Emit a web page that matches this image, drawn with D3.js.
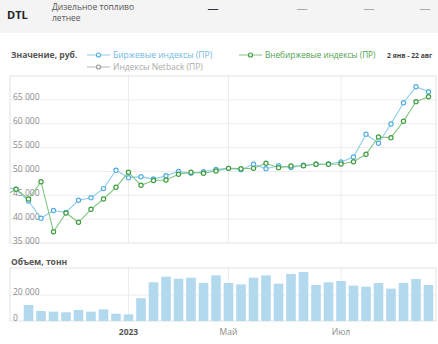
<!DOCTYPE html>
<html><head><meta charset="utf-8">
<script src="https://cdn.jsdelivr.net/npm/d3@7"></script>
<style>body{margin:0;background:#fff;}svg{display:block;font-family:"Open Sans",sans-serif;}</style>
</head><body><svg id="c" width="438" height="344"></svg>
<script>
// weekly index positions (-1 is a partially clipped leading point)
const weekIdx = d3.range(-1, 34);
const birzh = [46700,46300,43800,40200,41800,41400,43950,44500,46400,50240,48700,48900,48400,49100,50000,49600,49950,50440,50650,50370,51500,50580,51200,50800,51280,51490,51560,51980,53030,57780,55900,59940,64400,67760,66700];
const vnebirzh = [44800,46260,44220,47850,37370,41290,39340,42060,44220,46670,49820,47090,48100,48200,49400,49820,49610,50090,50650,50580,50650,51700,50790,51140,51200,51490,51490,51560,52040,53590,57220,57080,60510,64620,65660];
const netback = [];
const volIdx = d3.range(1, 34);
const volume = [12300,7700,7200,6700,8500,7200,9000,5600,5100,17500,29800,34100,32500,33300,29200,35100,29200,28200,33300,35100,28700,36200,37700,27700,29800,30800,27200,26400,29200,24900,29200,32300,27700];
const yTicks = [35000,40000,45000,50000,55000,60000,65000];
const volTicks = [0,20000];
const xTickIdx = [9,17,26];
const xTickLabels = ["2023","Май","Июл"];

const svg = d3.select("#c");
const fmt = v => d3.format(",")(v).replace(/,/g," ");

// header
svg.append("rect").attr("x",0).attr("y",0).attr("width",438).attr("height",33).attr("fill","#f4f4f4");
svg.append("text").attr("x",7).attr("y",19).attr("font-size",11).attr("font-weight","bold").attr("fill","#222").text("DTL");
svg.append("text").attr("x",52).attr("y",10).attr("font-size",8.5).attr("fill","#555").text("Дизельное топливо");
svg.append("text").attr("x",52).attr("y",21).attr("font-size",8.5).attr("fill","#555").text("летнее");
[[213,"#333"],[302,"#aaa"],[369,"#aaa"],[425,"#aaa"]].forEach(([x,c])=>{
  svg.append("text").attr("x",x).attr("y",12).attr("text-anchor","middle").attr("font-size",11).attr("fill",c).text("—");
});

// legend
const blue="#8ccbeb", blueDot="#55aee0", green="#80c480", greenDot="#3f9d3f", gray="#b5b5b5";
svg.append("text").attr("x",11).attr("y",58).attr("font-size",8.5).attr("font-weight","bold").attr("fill","#555").text("Значение, руб.");
function legend(x,y,lc,dc,tc,label,fs){
  svg.append("line").attr("x1",x).attr("x2",x+23).attr("y1",y).attr("y2",y).attr("stroke",lc).attr("stroke-width",1);
  svg.append("circle").attr("cx",x+11.5).attr("cy",y).attr("r",2).attr("fill","#fff").attr("stroke",dc).attr("stroke-width",1.2);
  svg.append("text").attr("x",x+26).attr("y",y+3).attr("font-size",fs).attr("fill",tc).text(label);
}
legend(87,55,blue,blueDot,"#6fb9e2","Биржевые индексы (ПР)",8.5);
legend(239,55,green,greenDot,"#4f9f4f","Внебиржевые индексы (ПР)",8.2);
legend(87,67,gray,"#999","#aaa","Индексы Netback (ПР)",8.5);
svg.append("text").attr("x",387).attr("y",58).attr("font-size",6.8).attr("font-weight","bold").attr("fill","#444").text("2 янв - 22 авг");

// scales
const L=10,R=436;
const x = d3.scaleLinear().domain([-0.48,33.6]).range([L,R]);
const y = d3.scaleLinear().domain([35000,70000]).range([243,76]);
const yv = d3.scaleLinear().domain([0,40000]).range([321,269]);

// main chart grid
const g = svg.append("g");
g.selectAll(".hg").data(yTicks.slice(1)).join("line").attr("x1",L).attr("x2",R)
  .attr("y1",d=>y(d)).attr("y2",d=>y(d)).attr("stroke","#ececec");
g.selectAll(".vg").data(xTickIdx).join("line").attr("y1",76).attr("y2",243)
  .attr("x1",d=>x(d)).attr("x2",d=>x(d)).attr("stroke","#ececec");
g.append("rect").attr("x",L).attr("y",76).attr("width",R-L).attr("height",167).attr("fill","none").attr("stroke","#e2e2e2");
g.selectAll(".yl").data(yTicks).join("text").attr("x",13).attr("y",d=>y(d)+0.5)
  .attr("font-size",8.5).attr("fill","#8a8a8a").text(fmt);

svg.append("clipPath").attr("id","clip").append("rect").attr("x",L).attr("y",76).attr("width",R-L).attr("height",167);
const line = d3.line().x((d,i)=>x(weekIdx[i])).y(d=>y(d));
function series(vals,lc,dc){
  const s = svg.append("g").attr("clip-path","url(#clip)");
  s.append("path").datum(vals).attr("d",line).attr("fill","none").attr("stroke",lc).attr("stroke-width",1.1);
  s.selectAll("circle").data(vals).join("circle").attr("cx",(d,i)=>x(weekIdx[i])).attr("cy",d=>y(d))
    .attr("r",2.1).attr("fill","#fff").attr("stroke",dc).attr("stroke-width",1.2);
}
series(birzh,blue,blueDot);
series(vnebirzh,green,greenDot);

// volume chart
svg.append("text").attr("x",11).attr("y",265).attr("font-size",8.5).attr("font-weight","bold").attr("fill","#555").text("Объем, тонн");
const v = svg.append("g");
v.selectAll(".hg").data(volTicks.slice(1)).join("line").attr("x1",L).attr("x2",R)
  .attr("y1",d=>yv(d)).attr("y2",d=>yv(d)).attr("stroke","#ececec");
v.selectAll(".vg").data(xTickIdx).join("line").attr("y1",268).attr("y2",321)
  .attr("x1",d=>x(d)).attr("x2",d=>x(d)).attr("stroke","#ececec");
v.append("rect").attr("x",L).attr("y",268).attr("width",R-L).attr("height",53).attr("fill","none").attr("stroke","#e2e2e2");
v.selectAll(".bar").data(volume).join("rect")
  .attr("x",(d,i)=>x(volIdx[i])-4.8).attr("width",9.6)
  .attr("y",d=>yv(d)).attr("height",d=>yv(0)-yv(d)).attr("fill","#b3d9ee");
v.selectAll(".yl").data(volTicks).join("text").attr("x",13).attr("y",d=>yv(d)-0.5)
  .attr("font-size",8.5).attr("fill","#8a8a8a").text(fmt);
svg.selectAll(".xl").data(xTickIdx).join("text").attr("x",d=>x(d)).attr("y",335).attr("text-anchor","middle")
  .attr("font-size",8.5).attr("font-weight",(d,i)=>i===0?"bold":"normal").attr("fill",(d,i)=>i===0?"#555":"#8a8a8a")
  .text((d,i)=>xTickLabels[i]);
</script></body></html>
